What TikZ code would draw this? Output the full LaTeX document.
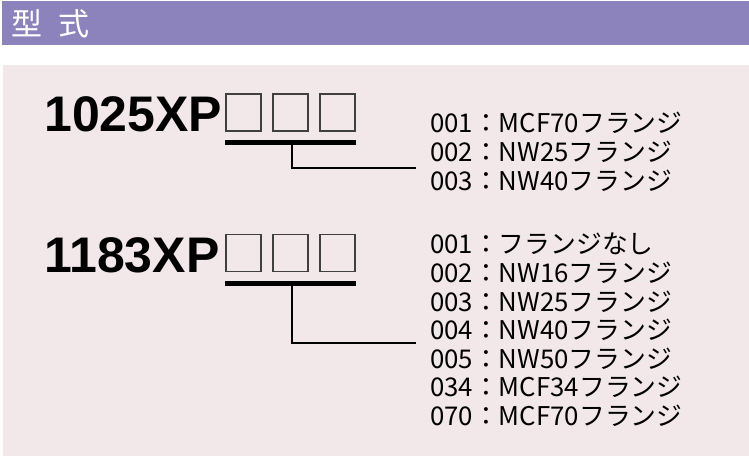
\documentclass[tikz,border=0pt]{standalone}
\usepackage{fontspec}
\setmainfont{Liberation Sans}
\newfontfamily\jpfont{Noto Sans CJK JP}
\definecolor{hdr}{HTML}{8D83BC}
\definecolor{panel}{HTML}{F2E8EA}
\definecolor{boxline}{HTML}{404040}
\begin{document}
\begin{tikzpicture}[x=1pt,y=-1pt,
  code/.style={anchor=base west,inner sep=0pt,font=\fontsize{50}{50}\selectfont\bfseries},
  item/.style={anchor=base west,inner sep=0pt,font=\jpfont\fontsize{25.8}{26}\selectfont},
  hdrtxt/.style={inner sep=0pt,text=white,font=\jpfont\fontsize{31}{31}\selectfont},
  sqbox/.style={draw=boxline,line width=1.1pt,minimum width=35pt,minimum height=37pt,inner sep=0pt},
  uline/.style={line width=5pt},
  conn/.style={line width=1.6pt}]
\useasboundingbox (0,0) rectangle (749,456);
\fill[white] (0,0) rectangle (749,456);
\fill[hdr] (2,1) rectangle (749,45);
\fill[panel] (3,65) rectangle (749,456);
\node[hdrtxt] (h1) at (27,23.5) {型};
\node[hdrtxt] (h2) at (74,23.5) {式};
% group 1
\node[code] (c1) at (44,131) {1025XP};
\node[sqbox] (b11) at (243.5,112.5) {};
\node[sqbox] (b12) at (290.5,112.5) {};
\node[sqbox] (b13) at (337.5,112.5) {};
\coordinate (u1a) at (225,142);
\coordinate (u1b) at (356,142);
\coordinate (u1m) at (292,142);
\coordinate (k1) at (292,168);
\coordinate (e1) at (416,168);
\draw[uline] (u1a) -- (u1b);
\draw[conn] (u1m) -- (k1) -- (e1);
\node[item] (a1) at (430,132) {001：MCF70フランジ};
\node[item] (a2) at (430,161) {002：NW25フランジ};
\node[item] (a3) at (430,190) {003：NW40フランジ};
% group 2
\node[code] (c2) at (44,272) {1183XP};
\node[sqbox] (b21) at (243.5,253) {};
\node[sqbox] (b22) at (290.5,253) {};
\node[sqbox] (b23) at (337.5,253) {};
\coordinate (u2a) at (225,283);
\coordinate (u2b) at (356,283);
\coordinate (u2m) at (292,283);
\coordinate (k2) at (292,343);
\coordinate (e2) at (416,343);
\draw[uline] (u2a) -- (u2b);
\draw[conn] (u2m) -- (k2) -- (e2);
\node[item] (d1) at (430,253) {001：フランジなし};
\node[item] (d2) at (430,282) {002：NW16フランジ};
\node[item] (d3) at (430,311) {003：NW25フランジ};
\node[item] (d4) at (430,339) {004：NW40フランジ};
\node[item] (d5) at (430,368) {005：NW50フランジ};
\node[item] (d6) at (430,396) {034：MCF34フランジ};
\node[item] (d7) at (430,425) {070：MCF70フランジ};
\end{tikzpicture}
\end{document}
